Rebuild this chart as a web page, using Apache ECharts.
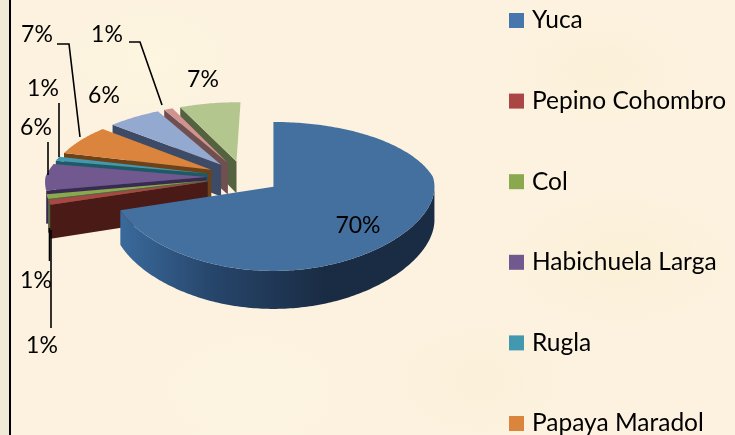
<!DOCTYPE html>
<html><head><meta charset="utf-8">
<style>
html,body{margin:0;padding:0;width:735px;height:435px;overflow:hidden;
background-color:#FCF2DF;
background-image:
 radial-gradient(ellipse 90px 60px at 150px 60px,rgba(255,248,225,.6),transparent),
 radial-gradient(ellipse 120px 70px at 620px 260px,rgba(250,238,205,.45),transparent),
 radial-gradient(ellipse 100px 60px at 600px 70px,rgba(250,240,210,.45),transparent),
 radial-gradient(ellipse 110px 70px at 250px 390px,rgba(253,244,226,.6),transparent),
 radial-gradient(ellipse 90px 60px at 480px 380px,rgba(250,238,208,.4),transparent);}
#c{width:735px;height:435px}
</style>
<script src="https://cdn.jsdelivr.net/npm/echarts@6/dist/echarts.min.js"></script>
</head><body><div id="c"></div>
<script>
const categories=['Yuca','Pepino Cohombro','Col','Habichuela Larga','Rugla','Papaya Maradol','Categoría 7','Categoría 8','Categoría 9'];
const values=[70,1,1,6,1,7,6,1,7];
const legendCount=6;
const topColors=['#44709F','#AA4644','#8AA84E','#71588F','#4198AF','#DB843D','#93A9CF','#D19392','#B3C68E'];
const legendColors=['#4676AC','#AA4644','#8AA84E','#71588F','#4198AF','#DB843D','#93A9CF','#D19392','#B9CD96'];
const sideColors=['#1F3653','#4A1A17','#556641','#3A2A52','#1C5A68','#6E4117','#3D4B66','#6F4F4F','#55623F'];
const labelPos=[[358,226],[36,281],[42,346],[36,128],[43,89],[37,35],[104,96],[107,35],[203,80]];
const leaders=[[[57,44],[69,44],[80,137]],[[129,42],[140,42],[162,105]],[[59,103],[59,157]],[[48,142],[48,175]],[[49.5,228],[49.5,261]],[[51,230],[51,328]]];

const CX=243.5,VX=273,CY=177,SX=161,A=70.7,K=0.128,DEPTH=32.5,EXPLODE=0.23;
const NEAR=[0,.05,.05,.05,.05,.05,.05,.05,.05];
const U0=(VX-CX)/SX,total=values.reduce((a,b)=>a+b,0),rad=d=>d*Math.PI/180;
function project(u,v,dz,near){const d=1-K*v,dx=v<0?d:1-near*v;return [VX+SX*(u-U0)/dx,CY+A*v/d+DEPTH*dz/d];}
const slices=[];let acc=0;
values.forEach(val=>{const a0=acc;acc+=val/total*360;slices.push([a0,acc]);});
function sliceShapes(i){
  const [a0,a1]=slices[i],mid=rad((a0+a1)/2);
  const ou=EXPLODE*Math.sin(mid),ov=-EXPLODE*Math.cos(mid);
  const pt=(deg,dz)=>project(ou+Math.sin(rad(deg)),ov-Math.cos(rad(deg)),dz,NEAR[i]);
  const apex=dz=>project(ou,ov,dz,NEAR[i]);
  const arc=[];for(let a=a0;a<a1;a+=1)arc.push(a);arc.push(a1);
  const kids=[],side=sideColors[i];
  const face=deg=>({type:'polygon',shape:{points:[apex(0),pt(deg,0),pt(deg,1),apex(1)]},style:{fill:side}});
  if(Math.sin(rad(a0))<=1e-9)kids.push(face(a0));
  if(Math.sin(rad(a1))>1e-9)kids.push(face(a1));
  const front=arc.filter(a=>Math.cos(rad(a))<(i===0?0.02:-0.28));
  if(front.length>1){
    const pts=front.map(a=>pt(a,0)).concat(front.slice().reverse().map(a=>pt(a,1)));
    const fill=i===0?new echarts.graphic.LinearGradient(1,0,0,0,[
      {offset:0,color:'#1A2C44'},{offset:0.35,color:'#1A2C44'},{offset:0.7,color:'#26456A'},{offset:1,color:'#3A6A9C'}]):side;
    kids.push({type:'polygon',shape:{points:pts},style:{fill}});
  }
  kids.push({type:'polygon',shape:{points:[apex(0)].concat(arc.map(a=>pt(a,0)))},style:{fill:topColors[i]}});
  return {type:'group',children:kids};
}
const drawRank=[9,8,7,6,5,4,3,2,1];
const series=categories.map((name,i)=>({
  type:'custom',name,coordinateSystem:'none',z:2+drawRank[i],silent:true,
  itemStyle:{color:legendColors[i]},data:[[values[i]]],
  renderItem:()=>sliceShapes(i)
}));
const graphics=[
 {type:'rect',z:0,shape:{x:0,y:0,width:9,height:435},style:{fill:'#F0EBD8'}},
 {type:'rect',z:1,shape:{x:9,y:0,width:2,height:435},style:{fill:'#000'}}
];
leaders.forEach(p=>graphics.push({type:'polyline',z:50,shape:{points:p},style:{stroke:'#000',lineWidth:1.6,fill:'none'}}));
values.forEach((v,i)=>graphics.push({type:'text',z:51,x:labelPos[i][0],y:labelPos[i][1],
  style:{text:Math.round(v/total*100)+'%',font:'23px Lato',fill:'#000',align:'center',verticalAlign:'middle'}}));
const chart=echarts.init(document.getElementById('c'),null,{renderer:'canvas'});
chart.setOption({
  backgroundColor:'transparent',animation:false,
  legend:{data:categories.slice(0,legendCount).map(name=>({name,icon:'rect'})),orient:'vertical',left:504,top:3,height:600,
    itemWidth:15,itemHeight:15,itemGap:55.6,selectedMode:false,
    textStyle:{fontFamily:'Lato',fontSize:24.5,lineHeight:24,color:'#000',padding:[0,0,0,3]}},
  graphic:{elements:graphics},
  series
});
</script></body></html>
